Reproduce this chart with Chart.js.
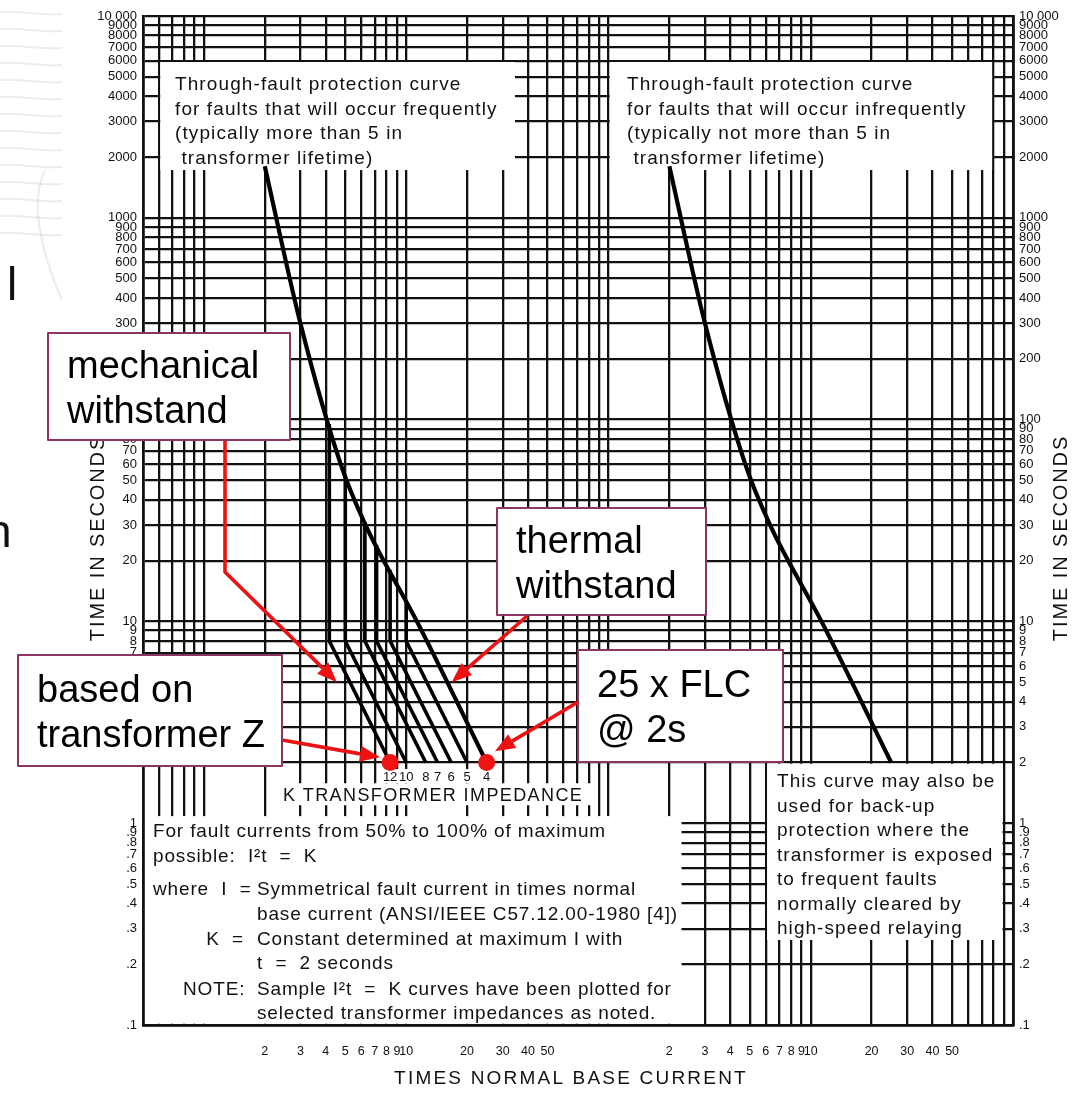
<!DOCTYPE html>
<html>
<head>
<meta charset="utf-8">
<script src="https://cdn.jsdelivr.net/npm/chart.js@4.4.1/dist/chart.umd.min.js"></script>
<style>
  html, body { margin: 0; padding: 0; background: #fff; }
  canvas { display: block; }
</style>
</head>
<body>
<canvas id="c" width="1080" height="1094"></canvas>
<script>
// Through-fault duration curve: time (s) against multiples of normal base current
const thermalCurrent = [2, 3, 4.75, 6.3, 11.3, 25];
const thermalTime    = [1800, 300, 60, 30, 10, 2];

// Sample I²t = K curves, one per transformer impedance (percent)
const impedanceLabels = ['12', '10', '8', '7', '6', '5', '4'];
const kneeCurrent = [4.17, 5, 6.25, 7.14, 8.33, 10, 12.5];   // current where the curve leaves the thermal line
const kneeTime    = [95, 53, 31, 24, 18, 12.6, 8];
const halfTime    = [8, 8, 8, 8, 8, 8, 8];                    // 50 % of maximum fault current
const maxCurrent  = [8.33, 10, 12.5, 14.3, 16.7, 20, 25];     // maximum fault current
const maxTime     = [2, 2, 2, 2, 2, 2, 2];

// Highlighted points: 12 % impedance curve end, and 25 x FLC @ 2 s
const markerIndex = [0, 6];

// Axis tick labels
const currentTickLabels = [2, 3, 4, 5, 6, 7, 8, 9, 10, 20, 30, 40, 50];
const timeTickLabels = ['.1', '.2', '.3', '.4', '.5', '.6', '.7', '.8', '.9',
  '1', '2', '3', '4', '5', '6', '7', '8', '9',
  '10', '20', '30', '40', '50', '60', '70', '80', '90',
  '100', '200', '300', '400', '500', '600', '700', '800', '900',
  '1000', '2000', '3000', '4000', '5000', '6000', '7000', '8000', '9000', '10 000'];

// Log-paper rulings: 1..9 in each decade
const mantissas = [1, 2, 3, 4, 5, 6, 7, 8, 9];
const timeGrid = [];
for (let e = -1; e <= 3; e++) mantissas.forEach(m => timeGrid.push(Number((m * Math.pow(10, e)).toPrecision(3))));
timeGrid.push(10000);

// Two panels share one strip of log paper: the left one runs 0.5..100,
// the right one runs 1..100 and sits two decades further along (x 100..10000).
const PANEL_SHIFT = 100;
const currentGrid = [0.6, 0.7, 0.8, 0.9];
for (let e = 0; e <= 1; e++) mantissas.forEach(m => currentGrid.push(m * Math.pow(10, e)));
currentGrid.push(100);
for (let e = 0; e <= 1; e++) mantissas.forEach(m => { if (m * Math.pow(10, e) > 1) currentGrid.push(m * Math.pow(10, e) * PANEL_SHIFT); });
currentGrid.push(10000);

const FONT = '"Liberation Sans", Arial, Helvetica, sans-serif';
const INK = '#111';

function pts(xs, ys) { return xs.map((x, i) => ({ x, y: ys[i] })); }

const datasets = [
  { label: 'frequent faults', data: pts(thermalCurrent, thermalTime), xAxisID: 'x', yAxisID: 'y',
    borderColor: '#000', borderWidth: 4.2, cubicInterpolationMode: 'monotone', pointRadius: 0, order: 2 },
  { label: 'infrequent faults', data: pts(thermalCurrent, thermalTime), xAxisID: 'xr', yAxisID: 'y',
    borderColor: '#000', borderWidth: 4.2, cubicInterpolationMode: 'monotone', pointRadius: 0, order: 2 }
];
impedanceLabels.forEach((z, i) => {
  // the 4 % curve runs along the thermal line itself
  if (kneeTime[i] === halfTime[i]) return;
  datasets.push({
    label: z + ' %',
    data: [{ x: kneeCurrent[i], y: kneeTime[i] }, { x: kneeCurrent[i], y: halfTime[i] }, { x: maxCurrent[i], y: maxTime[i] }],
    xAxisID: 'x', yAxisID: 'y', borderColor: '#000', borderWidth: 3.6, tension: 0, pointRadius: 0, order: 2
  });
});
datasets.push({
  label: 'markers',
  data: markerIndex.map(i => ({ x: maxCurrent[i], y: maxTime[i] })),
  xAxisID: 'x', yAxisID: 'y', showLine: false, pointRadius: 8.5, pointHoverRadius: 8.5,
  pointBackgroundColor: '#f01414', pointBorderWidth: 0, order: 0
});

// White areas of the printed sheet that blank the rulings (data units of the named x axis)
const blanks = [
  { ax: 'x',  x0: 0.6, x1: 35,  y0: 1700, y1: 6000 },   // left heading
  { ax: 'xr', x0: 1,   x1: 80,  y0: 1700, y1: 6000 },   // right heading
  { ax: 'x',  x0: 0.5, x1: 233, y0: 0.1,  y1: 1.1 },    // formula block
  { ax: 'x',  x0: 2.17, x1: 87, y0: 1.21, y1: 1.6 },    // K TRANSFORMER IMPEDANCE
  { ax: 'xr', x0: 6,   x1: 90,  y0: 0.26, y1: 2 }       // back-up note
];

function spaced(ctx, text, x, y, px) {
  ctx.letterSpacing = px + 'px';
  ctx.fillText(text, x, y);
  ctx.letterSpacing = '0px';
}

const sheet = {
  id: 'sheet',
  beforeDatasetsDraw(chart) {
    const { ctx } = chart;
    const s = chart.scales;
    ctx.save();
    ctx.fillStyle = '#fff';
    blanks.forEach(b => {
      const sx = s[b.ax];
      const l = sx.getPixelForValue(b.x0) + 1.25, r = sx.getPixelForValue(b.x1) - 1.25;
      const t = s.y.getPixelForValue(b.y1) + 1.25, btm = s.y.getPixelForValue(b.y0) - 1.25;
      ctx.fillRect(l, t, r - l, btm - t);
    });

    ctx.fillStyle = INK;
    ctx.textBaseline = 'alphabetic';
    ctx.textAlign = 'left';
    ctx.font = '19px ' + FONT;
    const head = [
      ['Through-fault protection curve', 'for faults that will occur frequently', '(typically more than 5 in', ' transformer lifetime)'],
      ['Through-fault protection curve', 'for faults that will occur infrequently', '(typically not more than 5 in', ' transformer lifetime)']
    ];
    [175, 627].forEach((x0, k) => head[k].forEach((t, i) => spaced(ctx, t, x0, 90 + i * 24.5, 1.1)));

    // formula block
    const fx = 153, tx = 257, ls = 0.85;
    spaced(ctx, 'For fault currents from 50% to 100% of maximum', fx, 837, ls);
    spaced(ctx, 'possible:  I²t  =  K', fx, 862, ls);
    spaced(ctx, 'where  I  =', fx, 895, ls);
    spaced(ctx, 'Symmetrical fault current in times normal', tx, 895, ls);
    spaced(ctx, 'base current (ANSI/IEEE C57.12.00-1980 [4])', tx, 920, ls);
    ctx.textAlign = 'right';
    spaced(ctx, 'K  =', 244, 945, ls);
    ctx.textAlign = 'left';
    spaced(ctx, 'Constant determined at maximum I with', tx, 945, ls);
    spaced(ctx, 't  =  2 seconds', tx, 969, ls);
    spaced(ctx, 'NOTE:', 183, 995, ls);
    spaced(ctx, 'Sample I²t  =  K curves have been plotted for', tx, 995, ls);
    spaced(ctx, 'selected transformer impedances as noted.', tx, 1019, ls);

    // back-up note
    ['This curve may also be', 'used for back-up', 'protection where the', 'transformer is exposed',
     'to frequent faults', 'normally cleared by', 'high-speed relaying'].forEach((t, i) => spaced(ctx, t, 777, 787 + i * 24.5, 1.05));

    // impedance scale
    ctx.font = '18px ' + FONT;
    spaced(ctx, 'K TRANSFORMER IMPEDANCE', 283, 801, 1.4);
    ctx.font = '13px ' + FONT;
    ctx.textAlign = 'center';
    impedanceLabels.forEach((z, i) => {
      const px = s.x.getPixelForValue(maxCurrent[i]);
      const w = ctx.measureText(z).width + 3;
      ctx.fillStyle = '#fff';
      ctx.fillRect(px - w / 2, 769, w, 14);
      ctx.fillStyle = INK;
      ctx.fillText(z, px, 781);
    });
    ctx.restore();
  },
  afterDraw(chart) {
    const { ctx } = chart;
    const s = chart.scales;
    ctx.save();
    // axis titles
    ctx.fillStyle = INK;
    ctx.font = '20px ' + FONT;
    ctx.textAlign = 'center';
    ctx.textBaseline = 'middle';
    [98, 1061].forEach(x => {
      ctx.save();
      ctx.translate(x, 538);
      ctx.rotate(-Math.PI / 2);
      spaced(ctx, 'TIME IN SECONDS', 0, 0, 1.9);
      ctx.restore();
    });
    ctx.font = '19px ' + FONT;
    spaced(ctx, 'TIMES NORMAL BASE CURRENT', 571, 1079, 2.2);

    // slide background showing at the left edge
    ctx.strokeStyle = 'rgba(140,150,160,0.18)';
    ctx.lineWidth = 2;
    for (let i = 0; i < 14; i++) {
      ctx.beginPath();
      ctx.moveTo(0, 12 + i * 17);
      ctx.bezierCurveTo(20, 10 + i * 17, 40, 16 + i * 17, 62, 14 + i * 17);
      ctx.stroke();
    }
    ctx.beginPath();
    ctx.moveTo(62, 300);
    ctx.bezierCurveTo(40, 250, 30, 200, 45, 170);
    ctx.stroke();
    ctx.fillStyle = '#111';
    ctx.textAlign = 'left';
    ctx.textBaseline = 'alphabetic';
    ctx.font = '46px ' + FONT;
    ctx.fillText('l', 7, 300);
    ctx.fillText('n', -14, 547);

    // callouts
    const red = '#ee1111';
    const box = (x, y, w, h, lines) => {
      ctx.fillStyle = '#fff';
      ctx.fillRect(x, y, w, h);
      ctx.strokeStyle = '#8c3563';
      ctx.lineWidth = 2;
      ctx.strokeRect(x, y, w, h);
      ctx.fillStyle = '#000';
      ctx.font = '38px ' + FONT;
      lines.forEach((t, i) => ctx.fillText(t, x + 19, y + h / 2 - 9 + i * 45));
    };
    const arrow = (path, tip) => {
      const tx = s.x.getPixelForValue(tip[0]), ty = s.y.getPixelForValue(tip[1]);
      const p = path.concat([[tx, ty]]);
      const [ax, ay] = p[p.length - 2];
      const ang = Math.atan2(ty - ay, tx - ax);
      const L = 20, W = 8;
      const bx = tx - L * Math.cos(ang), by = ty - L * Math.sin(ang);
      ctx.strokeStyle = red;
      ctx.lineWidth = 3.6;
      ctx.lineJoin = 'round';
      ctx.beginPath();
      ctx.moveTo(p[0][0], p[0][1]);
      for (let i = 1; i < p.length - 1; i++) ctx.lineTo(p[i][0], p[i][1]);
      ctx.lineTo(bx, by);
      ctx.stroke();
      ctx.fillStyle = red;
      ctx.beginPath();
      ctx.moveTo(tx, ty);
      ctx.lineTo(bx + W * Math.sin(ang), by - W * Math.cos(ang));
      ctx.lineTo(bx - W * Math.sin(ang), by + W * Math.cos(ang));
      ctx.closePath();
      ctx.fill();
    };
    arrow([[225, 440], [225, 572]], [4.55, 5]);
    arrow([[527, 616]], [16.8, 5]);
    arrow([[282, 740]], [7.42, 2.12]);
    arrow([[578, 702]], [27.5, 2.27]);
    box(48, 333, 242, 107, ['mechanical', 'withstand']);
    box(497, 508, 209, 107, ['thermal', 'withstand']);
    box(18, 655, 264, 111, ['based on', 'transformer Z']);
    box(578, 650, 205, 112, ['25 x FLC', '@ 2s']);
    ctx.restore();
  }
};

function gridTicks(values) {
  return scale => { scale.ticks = values.map(v => ({ value: v })); };
}

const timeTicks = {
  autoSkip: false, color: INK, padding: 6,
  font: { family: FONT, size: 13 },
  callback: v => timeTickLabels[timeGrid.indexOf(v)] ?? ''
};

// frame drawn above the blanked areas
const frame = { display: true, color: INK, width: 2.8, z: 1 };

new Chart(document.getElementById('c'), {
  type: 'line',
  data: { datasets },
  options: {
    responsive: false,
    animation: false,
    devicePixelRatio: 1,
    layout: { padding: { top: 16, left: 0, right: 0, bottom: 0 } },
    plugins: { legend: { display: false }, tooltip: { enabled: false } },
    scales: {
      x: {
        type: 'logarithmic', min: 0.5, max: 10000, position: 'bottom',
        afterBuildTicks: gridTicks(currentGrid),
        afterFit: sc => { sc.height = 69; },
        grid: { color: INK, lineWidth: 2.3, drawTicks: false },
        border: frame,
        ticks: {
          autoSkip: false, maxRotation: 0, padding: 19, color: INK,
          font: { family: FONT, size: 12.5 },
          callback: v => {
            const c = v > PANEL_SHIFT ? Number((v / PANEL_SHIFT).toPrecision(3)) : v;
            return currentTickLabels.includes(c) && v !== PANEL_SHIFT ? String(c) : '';
          }
        }
      },
      xr: { type: 'logarithmic', min: 0.5 / PANEL_SHIFT, max: 100, display: false },
      y: {
        type: 'logarithmic', min: 0.1, max: 10000, position: 'left',
        afterBuildTicks: gridTicks(timeGrid),
        afterFit: sc => { sc.width = 143; },
        grid: { color: INK, lineWidth: 2.3, drawTicks: false },
        border: frame,
        ticks: timeTicks
      },
      y2: {
        type: 'logarithmic', min: 0.1, max: 10000, position: 'right',
        afterBuildTicks: gridTicks(timeGrid),
        afterFit: sc => { sc.width = 67; },
        grid: { display: false, drawTicks: false },
        border: frame,
        ticks: timeTicks
      }
    }
  },
  plugins: [sheet]
});
</script>
</body>
</html>
